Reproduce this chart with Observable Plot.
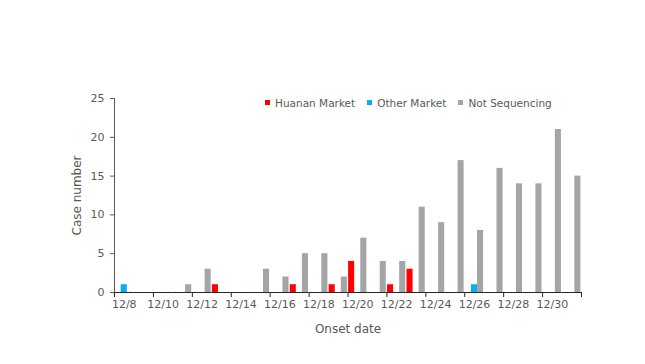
<!DOCTYPE html>
<html><head><meta charset="utf-8">
<script src="https://cdn.jsdelivr.net/npm/d3@7"></script>
<script src="https://cdn.jsdelivr.net/npm/@observablehq/plot@0.6"></script>
<style>
body{margin:0;background:#fff;}
#wrap{position:relative;width:645px;height:364px;}
#legend{position:absolute;left:265px;top:86px;}
#legend, #legend *{font-family:'DejaVu Sans',sans-serif !important;font-size:10.5px !important;color:#595959;}
#legend svg{margin-right:5px !important;}
#legend span{margin-right:12px !important;}
g[aria-label="y-axis label"], g[aria-label="fx-axis label"]{font-size:12px;}
g[aria-label^="y-axis"]:not([aria-label$="label"]){stroke:#262626;}
</style></head><body><div id="wrap"><div id="chart"></div><div id="legend"></div></div>
<script>
const dates = ["12/8","12/9","12/10","12/11","12/12","12/13","12/14","12/15","12/16","12/17","12/18","12/19","12/20","12/21","12/22","12/23","12/24","12/25","12/26","12/27","12/28","12/29","12/30","12/31"];
const seriesNames = ["Huanan Market","Other Market","Not Sequencing"];
const huanan =        [0,0,0,0,0,1,0,0,0,1,0,1,4,0,1,3,0,0,0,0,0,0,0,0];
const other =         [1,0,0,0,0,0,0,0,0,0,0,0,0,0,0,0,0,0,1,0,0,0,0,0];
const notSequencing = [0,0,0,1,3,0,0,3,2,5,5,2,7,4,4,11,9,17,8,16,14,14,21,15];
const seriesColors = ["#FF0000","#00B0F0","#A5A5A5"];
const yTicks = [0,5,10,15,20,25];
const labelDates = dates.filter((d,i)=>i%2===0);

const seriesArrays = [huanan, other, notSequencing];
const rows = dates.flatMap((d,i)=>seriesArrays.map((arr,k)=>({date:d, series:seriesNames[k], value:arr[i]})));

const W=645,H=364,ML=114,MR=64,MT=98,MB=72;
const step=(W-ML-MR)/dates.length;
const chart = Plot.plot({
  width:W,height:H,marginLeft:ML,marginRight:MR,marginTop:MT,marginBottom:MB,
  style:{fontFamily:"'DejaVu Sans', sans-serif", fontSize:"11px", color:"#595959", background:"white", overflow:"visible"},
  fx:{domain:dates, padding:0, round:false, axis:null},
  x:{domain:seriesNames, paddingInner:0, paddingOuter:0.1, round:false, axis:null},
  y:{domain:[0,25], ticks:yTicks, tickSize:4, tickPadding:6, line:true, label:"Case number", labelAnchor:"center", labelOffset:42, labelArrow:false},
  color:{domain:seriesNames, range:seriesColors},
  marks:[
    Plot.barY(rows,{fx:"date", x:"series", y:"value", fill:"series"}),
    Plot.ruleY([0],{stroke:"#262626"}),
    Plot.axisFx({anchor:"bottom", ticks:labelDates, tickSize:0, tickPadding:8, label:"Onset date", labelAnchor:"center", labelOffset:40}),
    Plot.axisFx({anchor:"bottom", ticks:labelDates, tickSize:5, tickFormat:()=>"", label:null, dx:-step/2, stroke:"#262626"}),
    Plot.axisFx({anchor:"bottom", ticks:[dates[dates.length-1]], tickSize:5, tickFormat:()=>"", label:null, dx:step/2, stroke:"#262626"})
  ]
});
document.getElementById("chart").append(chart);
const legend = Plot.legend({color:{domain:seriesNames, range:seriesColors}, legend:"swatches", swatchSize:5});
document.getElementById("legend").append(legend);
</script></body></html>
